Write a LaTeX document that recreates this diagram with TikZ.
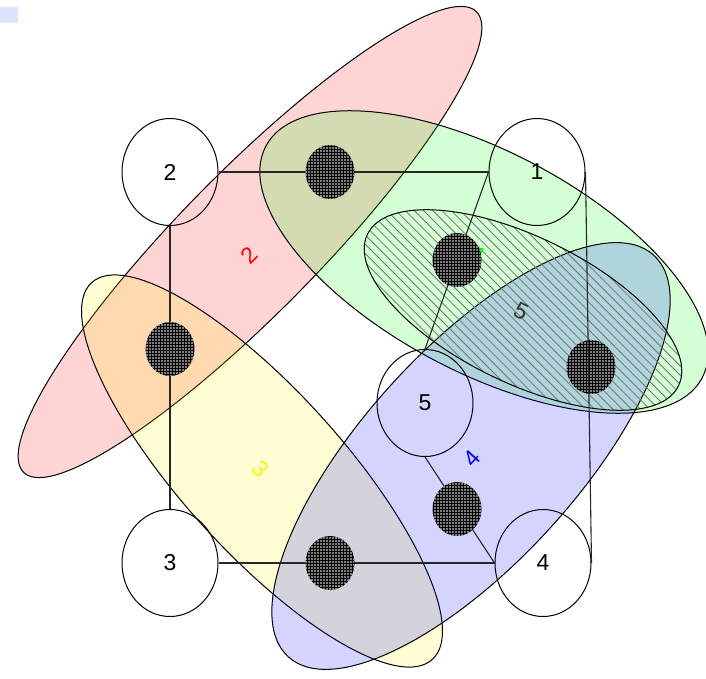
\documentclass[tikz,border=0pt]{standalone}
\usepackage{fontspec}
\setmainfont{Liberation Sans}
\usetikzlibrary{shapes.geometric,patterns,patterns.meta}
\definecolor{selbox}{RGB}{221,228,255}

\begin{document}
\begin{tikzpicture}[x=1pt,y=-1pt,
    vertex/.style={draw, ellipse, minimum width=96pt, minimum height=107pt, inner sep=0pt, line width=1pt, font=\fontsize{23}{27}\selectfont},
    hedge/.style={draw, ellipse, inner sep=0pt, line width=1pt, fill opacity=0.17},
    hdot/.style={ellipse, minimum width=49pt, minimum height=54pt, inner sep=0pt, preaction={fill=black},
                 pattern={Dots[distance=3pt,radius=0.8pt]}, pattern color=white},
    hlabel/.style={font=\fontsize{23}{27}\selectfont},
    link/.style={line width=1.1pt, black!85}]
      \useasboundingbox (0,0) rectangle (706,679);
      \fill[selbox] (0,7) rectangle (18,23);
      % hyperedges
      \node[hedge, fill=red,    rotate=45.5,  minimum width=646pt, minimum height=140pt] (e2) at (250,242) {};
      \node[hedge, fill=green,  rotate=-28,   minimum width=494pt, minimum height=220pt] (e1) at (484,262) {};
      \node[hedge, fill=yellow, rotate=-47.9, minimum width=508pt, minimum height=161pt] (e3) at (262,471) {};
      \node[hedge, fill=blue,   rotate=47.7,  minimum width=543pt, minimum height=214pt] (e4) at (471,456) {};
      % hatched hyperedge
      \begin{scope}
        \clip[rotate around={-26:(523,310)}] (523,310) ellipse [x radius=173pt, y radius=73pt];
        \foreach \k in {-45,...,45}
          \draw[black!55, line width=0.8pt] (523+9.2*\k-200,110) -- (523+9.2*\k+200,510);
      \end{scope}
      \node[draw, ellipse, inner sep=0pt, line width=1pt, rotate=-26, minimum width=346pt, minimum height=146pt] (e5) at (523,310) {};
      % vertices
      \node[vertex] (n1) at (537,172) {1};
      \node[vertex] (n2) at (170,172) {2};
      \node[vertex] (n3) at (170,563) {3};
      \node[vertex] (n4) at (543,563) {4};
      \node[vertex] (n5) at (425,403) {5};
      \draw[link] (n2) -- (n1);
      \draw[link] (n2) -- (n3);
      \draw[link] (n3) -- (n4);
      \draw[link] (n1.west) -- (n5.north);
      \draw[link] (n5.south) -- (n4.west);
      % hyperedge labels
      \node[hlabel, text=red,    rotate=45.5]  (l2) at (249,255) {2};
      \node[hlabel, text=green,  rotate=-28]   (l1) at (479,256) {1};
      \node[hlabel, text=yellow, rotate=-47.9] (l3) at (261,469) {3};
      \node[hlabel, text=blue,   rotate=47.7]  (l4) at (472,458) {4};
      \node[hlabel, text=black!80, rotate=-26] (l5) at (521,311) {5};
      % edge dots
      \node[hdot] (d21) at (330,172) {};
      \node[hdot] (d23) at (170,349) {};
      \node[hdot] (d34) at (330,563) {};
      \node[hdot] (d15) at (457,260) {};
      \node[hdot] (d54) at (457,509) {};
      \node[hdot] (d14) at (591,367) {};
      \draw[link] (n1.east) -- (n4.east);
    \end{tikzpicture}
\end{document}
